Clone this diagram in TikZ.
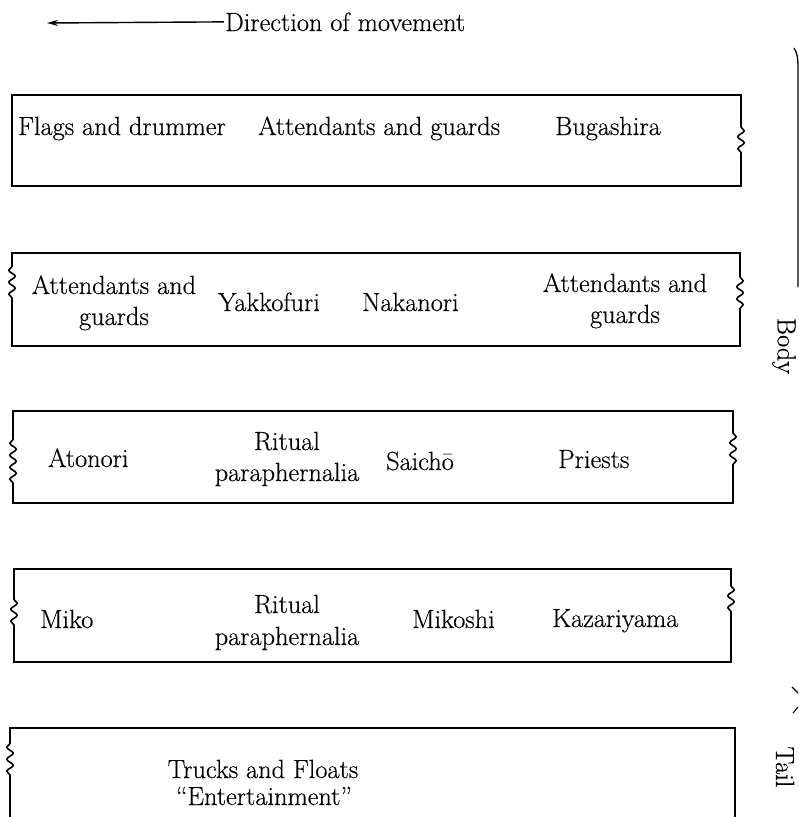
\documentclass[tikz,border=0pt]{standalone}
\usepackage{fontspec}
\setmainfont{Latin Modern Roman}[FakeBold=0.4]
\usetikzlibrary{decorations.pathmorphing,arrows.meta}
\begin{document}
\begin{tikzpicture}[x=1pt,y=-1pt,
  txt/.style={inner sep=0pt,font=\fontsize{26.3}{31}\selectfont},
  boxline/.style={line width=1.6pt,line join=miter},
  wav/.style={decoration={snake,amplitude=3.2pt,segment length=12pt}},
  side/.style={line width=1.3pt}]
\useasboundingbox (0,0) rectangle (799,817);

% direction arrow
\node[txt,anchor=base west] (dir) at (225,31) {Direction of movement};
\coordinate (arrowend) at (47,23);
\draw[line width=1.4pt,-{Stealth[length=11pt,width=6pt]}] ([xshift=-1pt]dir.west) -- (arrowend);

% box 1
\draw[boxline] (12,95) -- (741,95) -- (741,127) decorate[wav]{-- (741,157)} -- (741,186) -- (12,186) -- cycle;
\node[txt,anchor=base west] (flags) at (18,135) {Flags and drummer};
\node[txt,anchor=base west] (att1) at (258,135) {Attendants and guards};
\node[txt,anchor=base west] (buga) at (555,135) {Bugashira};

% box 2
\draw[boxline] (12,253) -- (740,253) -- (740,277) decorate[wav]{-- (740,310)} -- (740,346) -- (12,346) -- (12,298) decorate[wav]{-- (12,265)} -- cycle;
\node[txt,anchor=base] (att2a) at (114,294) {Attendants and};
\node[txt,anchor=base] (att2b) at (114,325) {guards};
\node[txt,anchor=base west] (yakko) at (218,311) {Yakkofuri};
\node[txt,anchor=base west] (naka) at (362,311) {Nakanori};
\node[txt,anchor=base] (att3a) at (625,292) {Attendants and};
\node[txt,anchor=base] (att3b) at (625,323) {guards};

% box 3
\draw[boxline] (13,411) -- (733,411) -- (733,433) decorate[wav]{-- (733,468)} -- (733,503) -- (13,503) -- (13,483) decorate[wav]{-- (13,437)} -- cycle;
\node[txt,anchor=base west] (atonori) at (48,467) {Atonori};
\node[txt,anchor=base] (rit1a) at (287,450) {Ritual};
\node[txt,anchor=base] (rit1b) at (287,481) {paraphernalia};
\node[txt,anchor=base west] (saicho) at (386,470) {Saichō};
\node[txt,anchor=base west] (priests) at (558,468) {Priests};

% box 4
\draw[boxline] (14,569) -- (731,569) -- (731,586) decorate[wav]{-- (731,617)} -- (731,662) -- (14,662) -- (14,625) decorate[wav]{-- (14,596)} -- cycle;
\node[txt,anchor=base west] (miko) at (40,628) {Miko};
\node[txt,anchor=base] (rit2a) at (287,613) {Ritual};
\node[txt,anchor=base] (rit2b) at (287,645) {paraphernalia};
\node[txt,anchor=base west] (mikoshi) at (412,628) {Mikoshi};
\node[txt,anchor=base west] (kazari) at (552,627) {Kazariyama};

% box 5
\draw[boxline] (10,830) -- (10,775) decorate[wav]{-- (10,740)} -- (10,728) -- (735,728) -- (735,830) -- cycle;
\node[txt,anchor=base] (trucks) at (263,778) {Trucks and Floats};
\node[txt,anchor=base] (enter) at (264,805) {``Entertainment''};

% side labels
\draw[side] (794,48) .. controls (797,52) and (798,58) .. (798,68) -- (798,287);
\node[txt,rotate=-90] (body) at (784,346) {Body};
\draw[line width=1.1pt] (792,687) -- (798,693);
\draw[line width=1.1pt] (793,713) -- (798,707);
\node[txt,rotate=-90] (tail) at (785,767) {Tail};
\end{tikzpicture}
\end{document}
